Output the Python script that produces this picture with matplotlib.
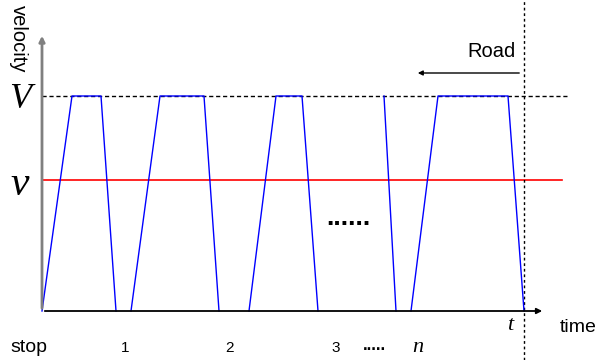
import matplotlib.pyplot as plt

# velocity levels (V = cruising speed, v = average speed)
V_top = 1.0
v_avg = 0.61

# trapezoid cycles: times of start, reach V, leave V, stop
cycles = [
    [0, 30, 59, 74],
    [89, 118, 162, 177],
    [207, 234, 260, 276],
    [369, 396, 466, 482],
]
# lone deceleration seen after the gap
frag_t = [342, 354]
frag_v = [V_top, 0]

t_end = 482
stop_labels = ['1', '2', '3']
stop_pos = [83, 187, 294]

plt.rcParams['font.family'] = 'Liberation Sans'

fig = plt.figure(figsize=(6.08, 3.6), dpi=100)
ax = fig.add_axes([0, 0, 1, 1])
ax.set_xlim(-42, 566)
ax.set_ylim(-49 / 215, 311 / 215)
ax.axis('off')

# axes with arrows
ax.annotate('', xy=(0, 278 / 215), xytext=(0, 0),
            arrowprops=dict(arrowstyle='-|>', color='#808080', lw=2, mutation_scale=8))
ax.annotate('', xy=(503, 0), xytext=(0, 0),
            arrowprops=dict(arrowstyle='-|>', color='black', lw=1.3, mutation_scale=8))

# reference levels
ax.plot([0, 525], [V_top, V_top], color='black', lw=1, ls=(0, (3, 2)))
ax.plot([0, 520], [v_avg, v_avg], color='red', lw=1.2)
ax.plot([t_end, t_end], [-49 / 215, 311 / 215], color='black', lw=1, ls=(0, (2, 2)))

# velocity profile
for c in cycles:
    ax.plot(c, [0, V_top, V_top, 0], color='blue', lw=1)
ax.plot(frag_t, frag_v, color='blue', lw=1)

# road arrow
ax.annotate('', xy=(373, 238 / 215), xytext=(480, 238 / 215),
            arrowprops=dict(arrowstyle='-|>', color='black', lw=1, mutation_scale=7))
ax.text(474, 250 / 215, 'Road', fontsize=14.5, ha='right', va='bottom')

# labels
ax.text(-24, 306 / 215, 'velocity', rotation=-90, fontsize=14.5, ha='center', va='top')
ax.text(-22, V_top - 4 / 215, 'V', family='Liberation Serif', style='italic', fontsize=26,
        ha='center', va='center')
ax.text(-22, v_avg - 5 / 215, 'v', family='Liberation Serif', style='italic', fontsize=30,
        ha='center', va='center')
ax.text(518, -16 / 215, 'time', fontsize=14, ha='left', va='center')
ax.text(468, -15 / 215, 't', family='Liberation Serif', style='italic', fontsize=16,
        ha='center', va='center')
ax.text(-32, -37 / 215, 'stop', fontsize=14, ha='left', va='center')
for lab, p in zip(stop_labels, stop_pos):
    ax.text(p, -37 / 215, lab, fontsize=11, ha='center', va='center')
ax.text(332, -35 / 215, '.....', fontsize=12, fontweight='bold', ha='center', va='center')
ax.text(376, -37 / 215, 'n', family='Liberation Serif', style='italic', fontsize=16,
        ha='center', va='center')
ax.text(306, 93 / 215, '......', fontsize=19, fontweight='bold', ha='center', va='center')

fig.savefig('out.png', dpi=100)
